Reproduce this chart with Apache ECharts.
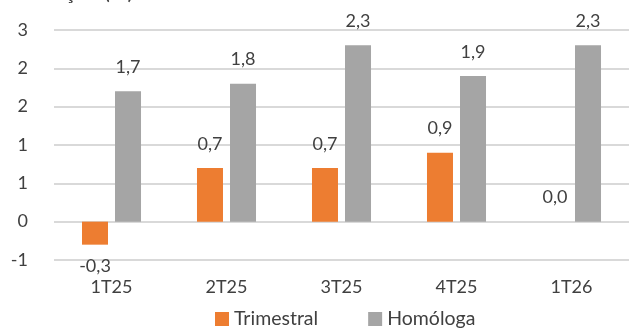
<!DOCTYPE html>
<html>
<head>
<meta charset="utf-8">
<script src="https://cdn.jsdelivr.net/npm/echarts@6/dist/echarts.min.js"></script>
<style>
  html, body { margin: 0; padding: 0; background: #fff; }
  #chart { width: 632px; height: 336px; }
</style>
</head>
<body>
<div id="chart"></div>
<script>
// Quarterly and year-on-year change (%)
const categories = ['1T25', '2T25', '3T25', '4T25', '1T26'];
const trimestral = [-0.3, 0.7, 0.7, 0.9, 0.0];
const homologa = [1.7, 1.8, 2.3, 1.9, 2.3];
const seriesNames = ['Trimestral', 'Homóloga'];
const titleText = 'Variação (%)';

const FONT = 'Lato, "Open Sans", sans-serif';
const fmtComma = v => v.toFixed(1).replace('.', ',');
// Axis ticks rounded to whole numbers, half away from zero
const fmtTick = v => String(Math.sign(v) * Math.round(Math.abs(v) + 1e-9));

const labelStyle = {
  show: true,
  fontFamily: FONT,
  fontSize: 18,
  color: '#404040',
  formatter: p => fmtComma(p.value)
};

const chart = echarts.init(document.getElementById('chart'), null, { renderer: 'canvas' });
chart.setOption({
  animation: false,
  title: {
    text: titleText,
    left: 16,
    top: -19,
    padding: 0,
    textStyle: { fontFamily: FONT, fontSize: 22, fontWeight: 'normal', color: '#404040' }
  },
  grid: { left: 54, right: 3, top: 30, bottom: 76, containLabel: false },
  legend: {
    bottom: 2,
    left: 210,
    itemWidth: 14,
    itemHeight: 14,
    itemGap: 50,
    icon: 'rect',
    textStyle: { fontFamily: FONT, fontSize: 19.5, color: '#404040' },
    data: seriesNames
  },
  xAxis: {
    type: 'category',
    data: categories,
    axisLine: { show: false },
    axisTick: { show: false },
    axisLabel: { fontFamily: FONT, fontSize: 18, color: '#404040', margin: 18 }
  },
  yAxis: {
    type: 'value',
    min: -0.5,
    max: 2.5,
    interval: 0.5,
    axisLine: { show: false },
    axisTick: { show: false },
    splitLine: { lineStyle: { color: '#d9d9d9', width: 2 } },
    axisLabel: { fontFamily: FONT, fontSize: 18, color: '#404040', margin: 26, formatter: fmtTick }
  },
  series: [
    {
      name: seriesNames[0],
      type: 'bar',
      data: trimestral.map(v => ({
        value: v,
        label: { position: v < 0 ? 'bottom' : 'top', distance: v < 0 ? 13 : 15 }
      })),
      barWidth: 26,
      barGap: '27%',
      itemStyle: { color: '#ed7d31' },
      label: labelStyle
    },
    {
      name: seriesNames[1],
      type: 'bar',
      data: homologa,
      barWidth: 26,
      itemStyle: { color: '#a5a5a5' },
      label: Object.assign({}, labelStyle, { position: 'top', distance: 15 })
    }
  ]
});
</script>
</body>
</html>
